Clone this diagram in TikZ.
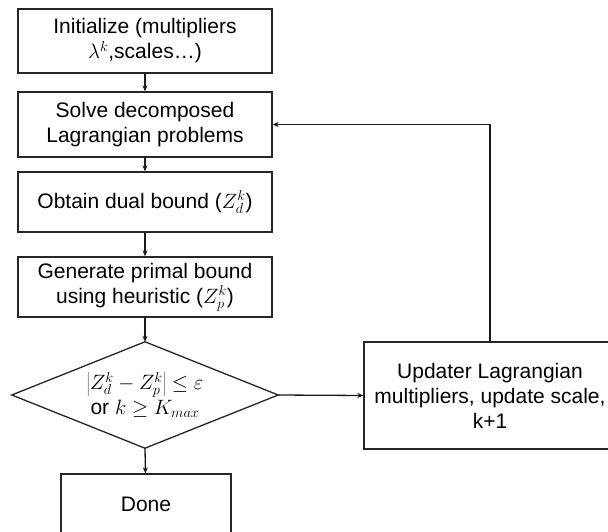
\documentclass[tikz,border=0pt]{standalone}
\usepackage{fontspec}
\setmainfont{Liberation Sans}
\usetikzlibrary{arrows.meta}
\tikzset{
  box/.style={draw=black!85, line width=1.3pt, align=center, inner sep=0pt,
    font=\fontsize{21}{25}\selectfont},
  ghost/.style={align=center, inner sep=0pt, font=\fontsize{21}{25}\selectfont},
  arr/.style={line width=1.3pt, draw=black!90, -{Stealth[length=6pt,width=5pt]}},
}
\begin{document}
\begin{tikzpicture}[x=1pt,y=-1pt]
\useasboundingbox (0,0) rectangle (608,532);
\clip (0,0) rectangle (608,532);
\fill[white] (0,0) rectangle (608,532);
\node[box, minimum width=254pt, minimum height=64pt] (b1) at (145,41)
  {Initialize (multipliers\\$\lambda^k$,scales\ldots)};
\node[box, minimum width=254pt, minimum height=65pt] (b2) at (145,124.5)
  {Solve decomposed\\Lagrangian problems};
\node[box, minimum width=254pt, minimum height=60pt] (b3) at (145,202)
  {Obtain dual bound ($Z_d^k$)};
\node[box, minimum width=254pt, minimum height=60pt] (b4) at (145,287)
  {Generate primal bound\\using heuristic ($Z_p^k$)};
\node[ghost, minimum width=266pt, minimum height=106pt] (dec) at (145,395)
  {$\left|Z_d^k-Z_p^k\right|\le\varepsilon$\\or $k\ge K_{max}$};
\draw[draw=black!85, line width=1.3pt] (dec.north) -- (dec.east) -- (dec.south) -- (dec.west) -- cycle;
\node[box, minimum width=170pt, minimum height=60pt] (done) at (146,504) {Done};
\node[box, minimum width=252pt, minimum height=107pt] (upd) at (490,395.5)
  {Updater Lagrangian\\multipliers, update scale,\\k+1};
\draw[arr] (b1) -- (b2);
\draw[arr] (b2) -- (b3);
\draw[arr] (b3) -- (b4);
\draw[arr] (b4) -- (dec.north);
\draw[arr] (dec.south) -- (done);
\draw[arr] (dec.east) -- (upd.west);
\draw[arr] (upd.north) |- (b2.east);
\end{tikzpicture}
\end{document}
